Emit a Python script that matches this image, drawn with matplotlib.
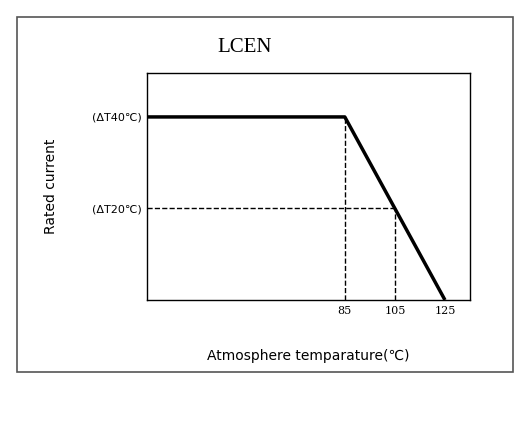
import matplotlib.pyplot as plt
from matplotlib.patches import Rectangle

temps = [6, 85, 125]
current = [1.0, 1.0, 0.0]
tick_temps = [85, 105, 125]
ref_levels = [1.0, 0.5]
ref_labels = ['(ΔT40℃)', '(ΔT20℃)']

W, H = 525, 423
fig = plt.figure(figsize=(W / 100, H / 100), dpi=100)
fig.patches.append(Rectangle((17 / W, 1 - 372 / H), 496 / W, 355 / H,
                             transform=fig.transFigure, fill=False,
                             edgecolor='#555555', linewidth=1.2))

ax = fig.add_axes([147 / W, 1 - 300 / H, 323 / W, 227 / H])
ax.plot(temps, current, color='black', linewidth=2.5, solid_capstyle='butt')
ax.plot([6, 105], [0.5, 0.5], color='black', linestyle='--', linewidth=1)
ax.plot([85, 85], [0, 1.0], color='black', linestyle='--', linewidth=1)
ax.plot([105, 105], [0, 0.5], color='black', linestyle='--', linewidth=1)

ax.set_xlim(6, 135)
ax.set_ylim(0, 1.24)
ax.set_xticks(tick_temps)
ax.set_xticklabels([str(t) for t in tick_temps], fontsize=8, family='DejaVu Serif')
ax.set_yticks(ref_levels)
ax.set_yticklabels(ref_labels, fontsize=8)
ax.tick_params(length=0, pad=4)
for s in ax.spines.values():
    s.set_linewidth(1)

ax.set_xlabel('Atmosphere temparature(℃)', fontsize=10, labelpad=24)
ax.set_ylabel('Rated current', fontsize=10, labelpad=24)
fig.text(245 / W, 1 - 47 / H, 'LCEN', fontsize=15, family='Liberation Serif',
         ha='center', va='center')

fig.savefig('out.png', dpi=100)
